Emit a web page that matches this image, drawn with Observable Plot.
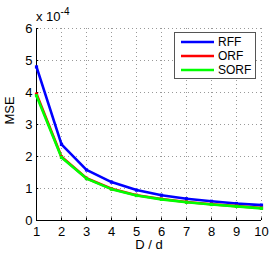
<!DOCTYPE html>
<html><head><meta charset="utf-8">
<script src="https://cdn.jsdelivr.net/npm/d3@7"></script>
<script src="https://cdn.jsdelivr.net/npm/@observablehq/plot@0.6"></script>
<style>body{margin:0;background:#fff}svg{font-family:"Liberation Sans",Arial,sans-serif}</style>
</head><body><div id="chart"></div>
<script>
const D = [1,2,3,4,5,6,7,8,9,10];
const rff  = [4.80,2.38,1.58,1.20,0.95,0.79,0.68,0.60,0.53,0.48];
const orf  = [3.95,1.99,1.32,0.99,0.79,0.67,0.58,0.51,0.45,0.39];
const sorf = [3.90,1.97,1.31,0.98,0.78,0.66,0.57,0.50,0.44,0.38];
const series = ["RFF","ORF","SORF"];
const colors = ["#0000ff","#ff0000","#00ff00"];
const xTicks = [1,2,3,4,5,6,7,8,9,10];
const yTicks = [0,1,2,3,4,5,6];

const rows = [];
[rff, orf, sorf].forEach((vals, i) => D.forEach((d, j) => rows.push({s: series[i], D: d, v: vals[j]})));

const chart = Plot.plot({
  width: 274, height: 255,
  marginLeft: 36, marginRight: 13, marginTop: 28, marginBottom: 35,
  style: {fontFamily: '"Liberation Sans", Arial, sans-serif', fontSize: "13px", background: "#fff"},
  x: {domain: [1, 10], ticks: xTicks, label: null},
  y: {domain: [0, 6], ticks: yTicks, label: null},
  color: {domain: series, range: colors},
  marks: [
    Plot.gridX(xTicks, {stroke: "#999", strokeOpacity: 1, strokeDasharray: "1,3"}),
    Plot.gridY(yTicks, {stroke: "#999", strokeOpacity: 1, strokeDasharray: "1,3"}),
    Plot.axisX({ticks: xTicks, tickSize: 0, tickPadding: 6, fontSize: 13, fill: "#000", label: null, tickFormat: d3.format("d")}),
    Plot.axisY({ticks: yTicks, tickSize: 0, tickPadding: 4, fontSize: 13, fill: "#000", label: null, tickFormat: d3.format("d")}),
    Plot.ruleX(xTicks, {x: d => d, y1: 0, y2: 0.08, stroke: "#000"}),
    Plot.ruleY(yTicks, {y: d => d, x1: 1, x2: 1.09, stroke: "#000"}),
    Plot.ruleY([0], {stroke: "#000"}),
    Plot.ruleX([1], {stroke: "#000"}),
    Plot.line(rows, {x: "D", y: "v", z: "s", stroke: "s", strokeWidth: 2.6}),
    Plot.dot(rows, {x: "D", y: "v", fill: "s", r: 1.8, symbol: "square"}),
    Plot.text(["D / d"], {frameAnchor: "bottom", dy: 28, fontSize: 13, fill: "#000"}),
    Plot.text(["MSE"], {frameAnchor: "left", dx: -27, rotate: -90, fontSize: 13, fill: "#000"})
  ]
});
document.getElementById("chart").appendChild(chart);

const svg = d3.select(chart);
// exponent label
const t = svg.append("text").attr("x", 36).attr("y", 21).attr("font-size", 13)
  .attr("fill", "#000").attr("text-anchor", "start");
t.append("tspan").text("x 10");
t.append("tspan").attr("dy", -6).attr("font-size", 10).text("-4");

// legend
const lg = svg.append("g").attr("text-anchor", "start");
lg.append("rect").attr("x", 174.5).attr("y", 32.5).attr("width", 81).attr("height", 46)
  .attr("fill", "#fff").attr("stroke", "#555").attr("stroke-width", 1);
series.forEach((s, i) => {
  const y = 42 + i * 14;
  lg.append("line").attr("x1", 181).attr("x2", 214).attr("y1", y).attr("y2", y)
    .attr("stroke", colors[i]).attr("stroke-width", 2.6);
  lg.append("text").attr("x", 218).attr("y", y).attr("dy", "0.35em")
    .attr("font-size", 12).attr("fill", "#000").text(s);
});
</script></body></html>
